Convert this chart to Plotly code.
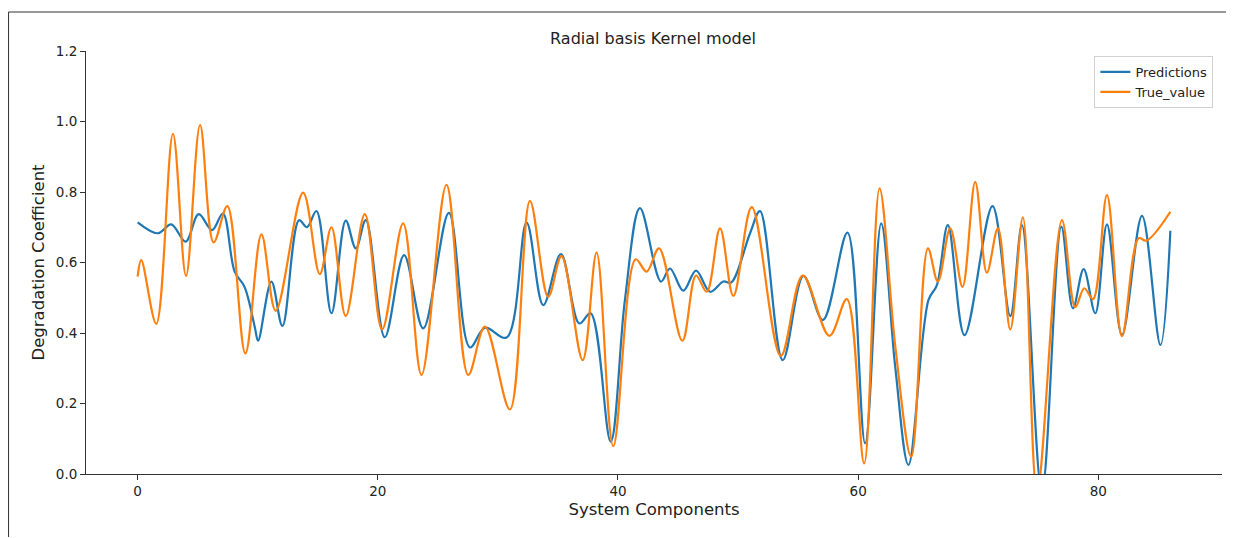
import plotly.graph_objects as go

# Predictions (blue) - read at curve turning points
pred_x = [0, 1.69, 2.8, 4.0, 5.08, 6.2, 7.1, 8.08, 8.9, 9.75, 10.03, 11.14, 12.06, 13.44, 14.1, 14.89,
          16.14, 17.33, 18.17, 19.0, 20.58, 22.19, 23.78, 25.92, 27.67, 28.92, 30.72, 32.39, 33.78,
          35.25, 36.78, 37.72, 39.39, 40.58, 41.83, 43.58, 44.33, 45.44, 46.5, 47.67, 48.78, 49.42,
          51.0, 51.83, 53.72, 55.44, 57.06, 59.11, 60.58, 61.92, 63.1, 64.19, 65.86, 66.56, 67.47,
          68.86, 71.19, 72.67, 73.64, 75.3, 76.92, 77.89, 78.78, 79.75, 80.72, 81.97, 83.64, 85.17, 86]
pred_y = [0.714, 0.683, 0.708, 0.659, 0.737, 0.692, 0.739, 0.574, 0.531, 0.418, 0.378, 0.546, 0.42,
          0.72, 0.70, 0.746, 0.456, 0.719, 0.64, 0.72, 0.388, 0.621, 0.413, 0.741, 0.359, 0.415,
          0.387, 0.713, 0.479, 0.624, 0.427, 0.456, 0.092, 0.494, 0.754, 0.546, 0.583, 0.52, 0.577,
          0.517, 0.546, 0.543, 0.683, 0.746, 0.323, 0.562, 0.437, 0.685, 0.087, 0.711, 0.30, 0.026,
          0.494, 0.536, 0.706, 0.394, 0.76, 0.448, 0.706, -0.05, 0.702, 0.47, 0.581, 0.456, 0.708,
          0.394, 0.732, 0.366, 0.69]

# True values (orange) - read at curve turning points
true_x = [0, 0.3, 1.55, 2.94, 4.03, 5.2, 6.33, 7.47, 8.97, 10.31, 11.5, 13.78, 15.17, 16.14, 17.33,
          18.92, 20.36, 22.11, 23.64, 25.72, 27.53, 28.92, 31.0, 32.67, 34.19, 35.3, 37.06, 38.22,
          39.61, 41.47, 42.39, 43.42, 45.36, 46.5, 47.39, 48.5, 49.61, 51.14, 53.56, 55.39, 57.61,
          59.06, 60.5, 61.78, 63.1, 64.42, 65.81, 66.64, 67.67, 68.69, 69.75, 70.72, 71.64, 72.67,
          73.72, 74.9, 76.97, 78.08, 78.83, 79.56, 80.72, 81.97, 83.36, 84.0, 86]
true_y = [0.56, 0.607, 0.426, 0.965, 0.562, 0.99, 0.657, 0.76, 0.342, 0.68, 0.463, 0.798, 0.567,
          0.70, 0.448, 0.737, 0.41, 0.711, 0.281, 0.82, 0.281, 0.418, 0.183, 0.775, 0.503, 0.618,
          0.323, 0.628, 0.079, 0.609, 0.574, 0.64, 0.378, 0.563, 0.517, 0.697, 0.505, 0.757, 0.335,
          0.563, 0.392, 0.496, 0.03, 0.81, 0.36, 0.049, 0.64, 0.546, 0.697, 0.531, 0.829, 0.571,
          0.697, 0.41, 0.728, -0.05, 0.72, 0.473, 0.527, 0.496, 0.791, 0.391, 0.669, 0.662, 0.744]

x_ticks = [0, 20, 40, 60, 80]
y_ticks = [0.0, 0.2, 0.4, 0.6, 0.8, 1.0, 1.2]

FONT = "DejaVu Sans"
TXT = "#222222"

# page body has an 8px default margin: work in screenshot pixels and subtract it
OFF = 8
W, H = 1234 - OFF, 538 - OFF
PL, PR, PT, PB = 86.4, 1221.6, 51, 474          # plot area in screenshot pixels
L, R, T, B = PL - OFF, (W + OFF) - PR, PT - OFF, (H + OFF) - PB
pw, ph = PR - PL, PB - PT

def px_x(p):
    return (p - PL) / pw

def px_y(p):
    return (PB - p) / ph

fig = go.Figure()
fig.add_trace(go.Scatter(x=pred_x, y=pred_y, mode="lines", name="Predictions",
                         line=dict(color="#1f77b4", width=2.2, shape="spline", smoothing=1.0)))
fig.add_trace(go.Scatter(x=true_x, y=true_y, mode="lines", name="True_value",
                         line=dict(color="#ff7f0e", width=2.2, shape="spline", smoothing=1.0)))

fig.update_layout(
    width=W, height=H,
    margin=dict(l=L, r=R, t=T, b=B, autoexpand=False),
    paper_bgcolor="white", plot_bgcolor="white",
    font=dict(family=FONT, color=TXT, size=13),
    title=dict(text="Radial basis Kernel model", x=(653 - OFF) / W, xanchor="center",
               y=1 - (38 - OFF) / H, yanchor="middle", font=dict(size=16, family=FONT, color=TXT)),
    showlegend=True,
    legend=dict(x=px_x(1213), xanchor="right", y=px_y(56), yanchor="top",
                bgcolor="white", bordercolor="#d0d0d0", borderwidth=1,
                font=dict(size=13, family=FONT, color=TXT),
                itemwidth=30, tracegroupgap=0),
    xaxis=dict(range=[-4.3, 90.3], tickvals=x_ticks, ticktext=[str(v) for v in x_ticks],
               showgrid=False, zeroline=False, showline=True, linecolor="#333333", linewidth=1,
               ticks="outside", ticklen=5, tickcolor="#333333", tickfont=dict(size=13.5),
               title=dict(text="System Components", font=dict(size=16.5), standoff=5),
               automargin=False),
    yaxis=dict(range=[0, 1.2], tickvals=y_ticks, ticktext=["%.1f" % v for v in y_ticks],
               showgrid=False, zeroline=False, showline=True, linecolor="#333333", linewidth=1,
               ticks="outside", ticklen=5, tickcolor="#333333", tickfont=dict(size=13.5),
               title=dict(text="Degradation Coefficient", font=dict(size=16.5), standoff=7),
               automargin=False),
)

# figure frame lines
frame = dict(type="line", xref="paper", yref="paper", line=dict(color="#333333", width=1))
fig.add_shape(**frame, x0=px_x(9), x1=px_x(1232), y0=px_y(12), y1=px_y(12))
fig.add_shape(**frame, x0=px_x(9), x1=px_x(9), y0=px_y(12), y1=px_y(537))
fig.add_shape(**frame, x0=px_x(1232), x1=px_x(1232), y0=px_y(12), y1=px_y(537))

fig.write_html("out.html")
